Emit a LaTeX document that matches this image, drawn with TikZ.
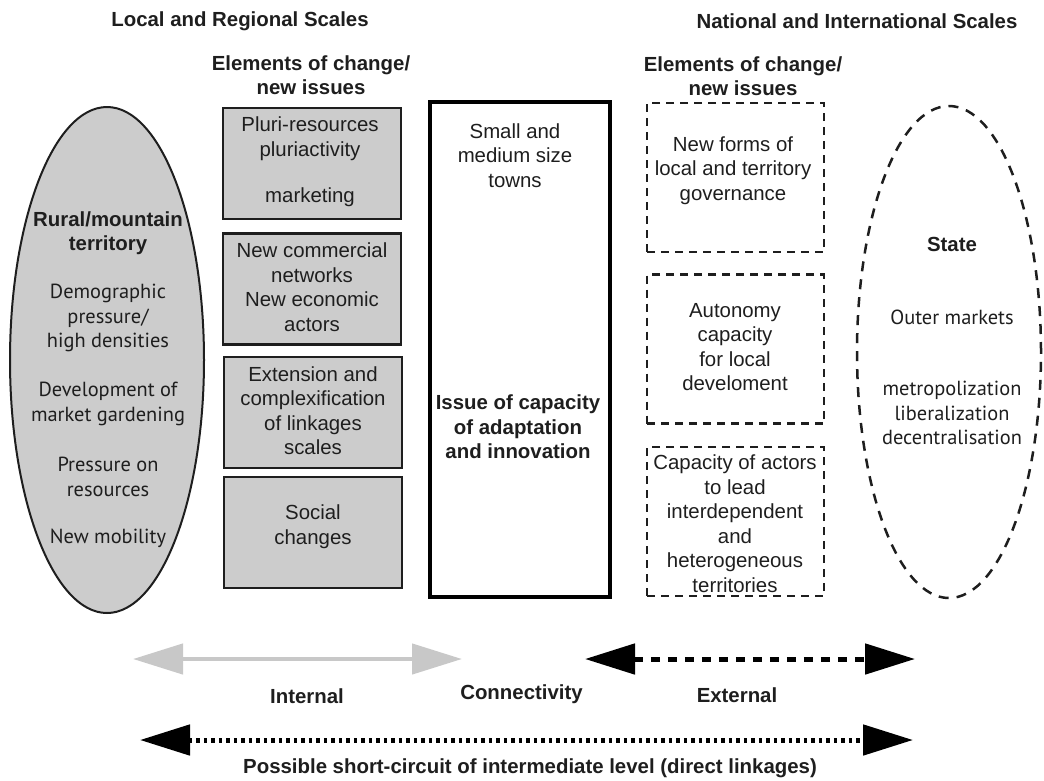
\documentclass[tikz,border=0pt]{standalone}
\usepackage{fontspec}
\setmainfont{Liberation Sans}
\newfontfamily\myr{PT Sans}
\usetikzlibrary{arrows.meta,shapes.geometric}
\definecolor{boxgray}{HTML}{CCCCCC}
\definecolor{arrgray}{HTML}{C8C8C8}
\definecolor{ink}{HTML}{1E1E1E}
\begin{document}
\begin{tikzpicture}[x=1pt,y=-1pt,
  every node/.style={inner sep=0pt,outer sep=0pt},
  txt/.style={font=\fontsize{20.4}{24.5}\selectfont, align=center, text=ink},
  hd/.style={font=\fontsize{20.4}{24.5}\selectfont\bfseries, align=center, text=ink},
  myr/.style={font=\fontsize{20.4}{24.5}\selectfont\myr, align=center, text=ink},
  graybox/.style={draw=ink, line width=2.5pt, fill=boxgray, minimum width=178pt, minimum height=111pt},
  dbox/.style={draw=ink, line width=2.5pt, dash pattern=on 8pt off 6pt, minimum width=177pt, minimum height=149pt},
  bigbox/.style={draw=black, line width=4.5pt, minimum width=180pt, minimum height=495pt},
  bigarr/.style={>={Triangle[length=50pt,width=30pt]}, <->},
  garrow/.style={bigarr, draw=arrgray, fill=arrgray, line width=4.5pt},
  darrow/.style={bigarr, draw=black, line width=5pt, dash pattern=on 9pt off 8pt},
  farrow/.style={bigarr, draw=black, line width=5pt, dash pattern=on 3.5pt off 4pt}
]
\useasboundingbox (0,0) rectangle (1044,780);

% headers
\node[hd] (hl) at (240,21) {Local and Regional Scales};
\node[hd] (hr) at (857,21) {National and International Scales};
\node[hd] (el) at (311,75) {Elements of change/\\new issues};
\node[hd] (er) at (743,76) {Elements of change/\\new issues};

% left ellipse
\node[ellipse, draw=ink, line width=2pt, fill=boxgray, minimum width=194pt, minimum height=506pt] (rural) at (107,360) {};
\node[hd] (rt) at (108,233) {Rural/mountain\\territory};
\node[myr] (r1) at (108,318) {Demographic\\pressure/\\high densities};
\node[myr] (r2) at (108,404) {Development of\\market gardening};
\node[myr] (r3) at (108,477) {Pressure on\\resources};
\node[myr] (r4) at (108,538) {New mobility};

% gray boxes
\node[graybox] (b1) at (312,163.5) {};
\node[graybox] (b2) at (312,289) {};
\node[graybox] (b3) at (313,412.5) {};
\node[graybox] (b4) at (313,532.5) {};
\node[txt] (t1) at (310,162) {Pluri-resources\\pluriactivity\\[22pt]marketing};
\node[txt] (t2) at (312,287) {New commercial\\networks\\New economic\\actors};
\node[txt] (t3) at (313,410.5) {Extension and\\complexification\\of linkages\\scales};
\node[txt] (t4) at (313,526.5) {Social\\changes};

% big box
\node[bigbox] (big) at (520,349.5) {};
\node[txt] (bt) at (515,155.5) {Small and\\medium size\\towns};
\node[hd] (bb) at (518,427) {Issue of capacity\\of adaptation\\and innovation};

% dashed boxes
\node[dbox] (d1) at (735.5,177.5) {};
\node[dbox] (d2) at (735.5,349) {};
\node[dbox] (d3) at (735.5,521.5) {};
\node[txt] (dt1) at (733,170.5) {New forms of\\local and territory\\governance};
\node[txt] (dt2) at (735,347) {Autonomy\\capacity\\for local\\develoment};
\node[txt] (dt3) at (735,523.5) {Capacity of actors\\to lead\\interdependent\\and\\heterogeneous\\territories};

% state ellipse
\node[ellipse, draw=ink, line width=2.5pt, dash pattern=on 10pt off 8pt, minimum width=184pt, minimum height=492pt] (state) at (949,352) {};
\node[hd] (st) at (952,244) {State};
\node[myr] (s1) at (952,317) {Outer markets};
\node[myr] (s2) at (952,413) {metropolization\\liberalization\\decentralisation};

% arrows
\coordinate (ga1) at (133,659);
\coordinate (ga2) at (462,659);
\coordinate (da1) at (585,659);
\coordinate (da2) at (915,659);
\coordinate (fa1) at (140,740);
\coordinate (fa2) at (913,740);
\draw[garrow] (ga1) -- (ga2);
\draw[darrow] (da1) -- (da2);
\draw[farrow] (fa1) -- (fa2);

\node[hd] (li) at (307,696) {Internal};
\node[hd] (lc) at (521.5,694) {Connectivity};
\node[hd] (le) at (737,695) {External};
\node[hd] (lp) at (530,768) {Possible short-circuit of intermediate level (direct linkages)};
\end{tikzpicture}
\end{document}
